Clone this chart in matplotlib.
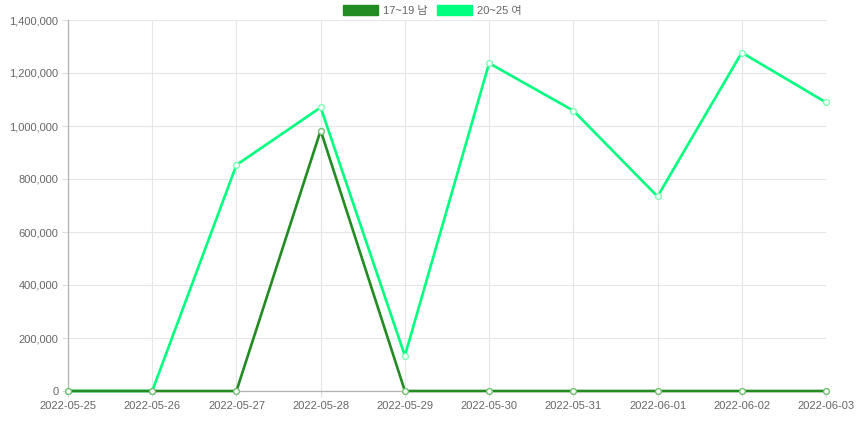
import matplotlib
matplotlib.use("Agg")
import matplotlib.pyplot as plt
from matplotlib.patches import Patch
from matplotlib.ticker import FuncFormatter, MultipleLocator

plt.rcParams['font.family'] = ['Liberation Sans', 'Noto Sans CJK KR', 'DejaVu Sans']

dates = ["2022-05-25", "2022-05-26", "2022-05-27", "2022-05-28", "2022-05-29",
         "2022-05-30", "2022-05-31", "2022-06-01", "2022-06-02", "2022-06-03"]
male_17_19 = [0, 0, 0, 983000, 0, 0, 0, 0, 0, 0]
female_20_25 = [0, 0, 853000, 1070000, 133000, 1237000, 1058000, 734000, 1277000, 1089000]
series_labels = ["17~19 남", "20~25 여"]
series_colors = ["#228B22", "#00FF7F"]

W, H = 861, 422
fig = plt.figure(figsize=(W / 100, H / 100), dpi=100)
ax = fig.add_axes([68 / W, (H - 391) / H, (826 - 68) / W, (391 - 20) / H])

x = list(range(len(dates)))
ax.plot(x, female_20_25, color=series_colors[1], lw=1.9, marker='o', ms=4.2,
        mfc='white', mec='#7dffb5', mew=1.0, zorder=3, clip_on=False)
ax.plot(x, male_17_19, color=series_colors[0], lw=1.9, marker='o', ms=4.2,
        mfc='white', mec='#6fbf6f', mew=1.0, zorder=4, clip_on=False)

ax.set_xlim(0, len(dates) - 1)
ax.set_ylim(0, 1400000)
ax.yaxis.set_major_locator(MultipleLocator(200000))
ax.yaxis.set_major_formatter(FuncFormatter(lambda v, p: f"{int(v):,}"))
ax.set_xticks(x)
ax.set_xticklabels(dates)

ax.grid(True, color='#e6e6e6', lw=0.8)
ax.set_axisbelow(True)
for s in ['top', 'right']:
    ax.spines[s].set_visible(False)
ax.spines['left'].set_color('#b3b3b3')
ax.spines['bottom'].set_color('#b3b3b3')
ax.spines['left'].set_linewidth(0.9)
ax.spines['bottom'].set_linewidth(0.9)
ax.tick_params(axis='both', colors='#666666', labelsize=8, length=4, width=0.8,
               pad=3)
ax.tick_params(axis='both', color='#dddddd')

handles = [Patch(facecolor=c, edgecolor=c) for c in series_colors]
fig.legend(handles, series_labels, loc='upper center', bbox_to_anchor=(0.502, 1.012),
           ncol=2, frameon=False, fontsize=8, handlelength=3.15, handleheight=1.0,
           handletextpad=0.45, columnspacing=0.8, labelcolor='#666666')

fig.savefig("out.png", dpi=100)
